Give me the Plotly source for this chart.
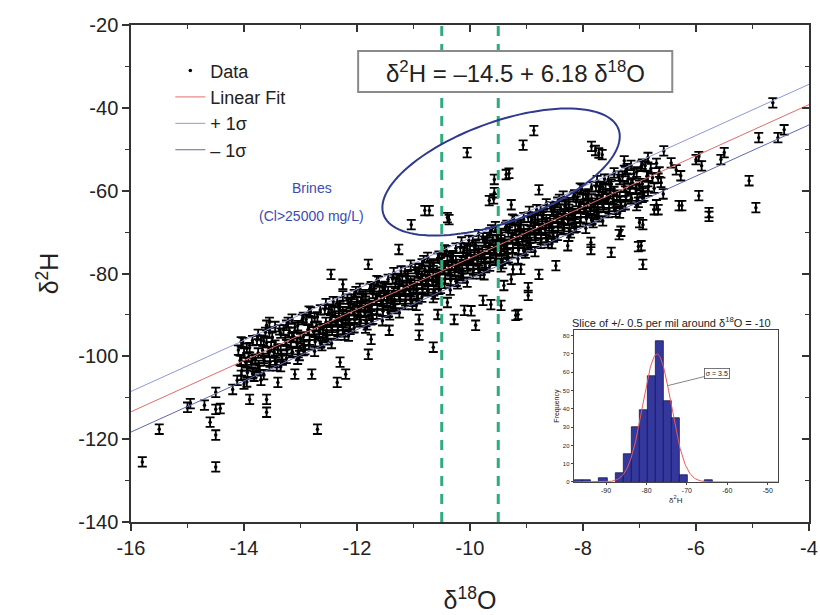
import numpy as np
import plotly.graph_objects as go

# ---------------- data ----------------
band_x = [
    -14.10, -14.07, -14.04, -14.12,
    -14.00, -13.97, -13.94, -14.02,
    -13.90, -13.87, -13.84, -13.92,
    -13.80, -13.77, -13.74, -13.82,
    -13.70, -13.67, -13.64, -13.72,
    -13.60, -13.57, -13.54, -13.62,
    -13.50, -13.47, -13.44, -13.52,
    -13.40, -13.37, -13.34, -13.42,
    -13.30, -13.27, -13.24, -13.32,
    -13.20, -13.17, -13.14, -13.22,
    -13.10, -13.07, -13.04, -13.12,
    -13.00, -12.97, -12.94, -13.02,
    -12.90, -12.87, -12.84, -12.92,
    -12.80, -12.77, -12.74, -12.82,
    -12.70, -12.67, -12.64, -12.72,
    -12.60, -12.57, -12.54, -12.62,
    -12.50, -12.47, -12.44, -12.52, -12.45, -12.54,
    -12.40, -12.37, -12.34, -12.42, -12.38, -12.32,
    -12.30, -12.27, -12.24, -12.32, -12.25, -12.34,
    -12.20, -12.17, -12.14, -12.22, -12.18, -12.12,
    -12.10, -12.07, -12.04, -12.12, -12.05, -12.14,
    -12.00, -11.97, -11.94, -12.02, -11.98, -11.92,
    -11.90, -11.87, -11.84, -11.92, -11.85, -11.94,
    -11.80, -11.77, -11.74, -11.82, -11.78, -11.72,
    -11.70, -11.67, -11.64, -11.72, -11.65, -11.74,
    -11.60, -11.57, -11.54, -11.62, -11.58, -11.52,
    -11.50, -11.47, -11.44, -11.52, -11.45, -11.54,
    -11.40, -11.37, -11.34, -11.42, -11.38, -11.32,
    -11.30, -11.27, -11.24, -11.32, -11.25, -11.34,
    -11.20, -11.17, -11.14, -11.22, -11.18, -11.12,
    -11.10, -11.07, -11.04, -11.12, -11.05, -11.14,
    -11.00, -10.97, -10.94, -11.02, -10.98, -10.92,
    -10.90, -10.87, -10.84, -10.92, -10.85, -10.94,
    -10.80, -10.77, -10.74, -10.82, -10.78, -10.72,
    -10.70, -10.67, -10.64, -10.72, -10.65, -10.74,
    -10.60, -10.57, -10.54, -10.62, -10.58, -10.52,
    -10.50, -10.47, -10.44, -10.52, -10.45, -10.54,
    -10.40, -10.37, -10.34, -10.42, -10.38, -10.32,
    -10.30, -10.27, -10.24, -10.32, -10.25, -10.34,
    -10.20, -10.17, -10.14, -10.22, -10.18, -10.12,
    -10.10, -10.07, -10.04, -10.12, -10.05, -10.14,
    -10.00, -9.97, -9.94, -10.02, -9.98, -9.92,
    -9.90, -9.87, -9.84, -9.92, -9.85, -9.94,
    -9.80, -9.77, -9.74, -9.82, -9.78, -9.72,
    -9.70, -9.67, -9.64, -9.72, -9.65, -9.74,
    -9.60, -9.57, -9.54, -9.62, -9.58, -9.52,
    -9.50, -9.47, -9.44, -9.52, -9.45, -9.54,
    -9.40, -9.37, -9.34, -9.42, -9.38, -9.32,
    -9.30, -9.27, -9.24, -9.32, -9.25, -9.34,
    -9.20, -9.17, -9.14, -9.22, -9.18, -9.12,
    -9.10, -9.07, -9.04, -9.12, -9.05, -9.14,
    -9.00, -8.97, -8.94, -9.02, -8.98, -8.92,
    -8.90, -8.87, -8.84, -8.92, -8.85, -8.94,
    -8.80, -8.77, -8.74, -8.82, -8.78, -8.72,
    -8.70, -8.67, -8.64, -8.72, -8.65, -8.74,
    -8.60, -8.57, -8.54, -8.62, -8.58, -8.52,
    -8.50, -8.47, -8.44, -8.52, -8.45, -8.54,
    -8.40, -8.37, -8.34, -8.42, -8.38, -8.32,
    -8.30, -8.27, -8.24, -8.32, -8.25, -8.34,
    -8.20, -8.17, -8.14, -8.22, -8.18, -8.12,
    -8.10, -8.07, -8.04, -8.12, -8.05, -8.14,
    -8.00, -7.97, -7.94, -8.02, -7.98, -7.92,
    -7.90, -7.87, -7.84, -7.92, -7.85, -7.94,
    -7.80, -7.77, -7.74, -7.82, -7.78, -7.72,
    -7.70, -7.67, -7.64, -7.72, -7.65, -7.74,
    -7.60, -7.57, -7.54, -7.62, -7.58, -7.52,
    -7.50, -7.47, -7.44, -7.52,
    -7.40, -7.37, -7.34, -7.42,
    -7.30, -7.27, -7.24, -7.32,
    -7.20, -7.17, -7.14, -7.22,
    -7.10, -7.07, -7.04, -7.12,
    -7.00, -6.97, -6.94, -7.02,
    -6.90, -6.87, -6.84, -6.92,
    -6.80, -6.77, -6.74,
    -6.70, -6.67, -6.62, -6.65, -6.58,
]
band_y = [
    -98.5, -101.0, -103.5, -105.8,
    -99.2, -101.4, -103.9, -96.7,
    -97.9, -101.5, -104.0, -100.2,
    -100.7, -96.1, -102.2, -104.8,
    -96.1, -98.6, -101.1, -103.4,
    -96.7, -98.9, -101.4, -94.2,
    -95.4, -99.0, -101.5, -97.7,
    -98.2, -93.6, -99.7, -102.3,
    -93.6, -96.1, -98.6, -100.9,
    -94.3, -96.5, -99.0, -91.8,
    -93.0, -96.6, -99.1, -95.3,
    -95.7, -91.1, -97.2, -99.8,
    -91.1, -93.6, -96.1, -98.4,
    -91.8, -94.0, -96.5, -89.3,
    -90.5, -94.1, -96.6, -92.8,
    -93.3, -88.7, -94.8, -97.4,
    -88.6, -91.2, -93.7, -96.0, -90.5, -93.8,
    -89.3, -91.5, -94.0, -86.8, -91.4, -88.5,
    -88.0, -91.6, -94.1, -90.3, -89.2, -92.5,
    -90.8, -86.2, -92.3, -94.9, -90.2, -87.3,
    -86.2, -88.7, -91.2, -93.5, -88.0, -91.3,
    -86.9, -89.1, -91.6, -84.4, -89.0, -86.1,
    -85.5, -89.1, -91.6, -87.8, -86.7, -90.0,
    -88.3, -83.7, -89.8, -92.4, -87.7, -84.8,
    -83.7, -86.2, -88.7, -91.0, -85.5, -88.8,
    -84.4, -86.6, -89.1, -81.9, -86.5, -83.6,
    -83.1, -86.7, -89.2, -85.4, -84.3, -87.6,
    -85.9, -81.3, -87.4, -90.0, -85.3, -82.4,
    -81.2, -83.7, -86.2, -88.5, -83.0, -86.3,
    -81.9, -84.1, -86.6, -79.4, -84.0, -81.1,
    -80.6, -84.2, -86.7, -82.9, -81.8, -85.1,
    -83.4, -78.8, -84.9, -87.5, -82.8, -79.9,
    -78.8, -81.3, -83.8, -86.1, -80.6, -83.9,
    -79.4, -81.6, -84.1, -76.9, -81.5, -78.6,
    -78.1, -81.7, -84.2, -80.4, -79.3, -82.6,
    -80.9, -76.3, -82.4, -85.0, -80.3, -77.4,
    -76.3, -78.8, -81.3, -83.6, -78.1, -81.4,
    -77.0, -79.2, -81.7, -74.5, -79.1, -76.2,
    -75.7, -79.3, -81.8, -78.0, -76.9, -80.2,
    -78.4, -73.8, -79.9, -82.5, -77.8, -74.9,
    -73.8, -76.3, -78.8, -81.1, -75.6, -78.9,
    -74.5, -76.7, -79.2, -72.0, -76.6, -73.7,
    -73.2, -76.8, -79.3, -75.5, -74.4, -77.7,
    -76.0, -71.4, -77.5, -80.1, -75.4, -72.5,
    -71.3, -73.8, -76.3, -78.6, -73.1, -76.4,
    -72.0, -74.2, -76.7, -69.5, -74.1, -71.2,
    -70.7, -74.3, -76.8, -73.0, -71.9, -75.2,
    -73.5, -68.9, -75.0, -77.6, -72.9, -70.0,
    -68.9, -71.4, -73.9, -76.2, -70.7, -74.0,
    -69.6, -71.8, -74.3, -67.1, -71.7, -68.8,
    -68.2, -71.8, -74.3, -70.5, -69.4, -72.7,
    -71.0, -66.4, -72.5, -75.1, -70.4, -67.5,
    -66.4, -68.9, -71.4, -73.7, -68.2, -71.5,
    -67.1, -69.3, -71.8, -64.6, -69.2, -66.3,
    -65.8, -69.4, -71.9, -68.1, -67.0, -70.3,
    -68.5, -63.9, -70.0, -72.6, -67.9, -65.0,
    -63.9, -66.4, -68.9, -71.2, -65.7, -69.0,
    -64.6, -66.8, -69.3, -62.1, -66.7, -63.8,
    -63.3, -66.9, -69.4, -65.6, -64.5, -67.8,
    -66.1, -61.5, -67.6, -70.2, -65.5, -62.6,
    -61.5, -64.0, -66.5, -68.8, -63.3, -66.6,
    -62.1, -64.3, -66.8, -59.6, -64.2, -61.3,
    -60.8, -64.4, -66.9, -63.1, -62.0, -65.3,
    -63.6, -59.0, -65.1, -67.7, -63.0, -60.1,
    -59.0, -61.5, -64.0, -66.3, -60.8, -64.1,
    -59.7, -61.9, -64.4, -57.2, -61.8, -58.9,
    -58.4, -62.0, -64.5, -60.7,
    -61.1, -56.5, -62.6, -65.2,
    -56.5, -59.0, -61.5, -63.8,
    -57.2, -59.4, -61.9, -54.7,
    -55.9, -59.5, -62.0, -58.2,
    -58.7, -54.1, -60.2, -62.8,
    -54.0, -56.5, -59.0, -61.3,
    -54.7, -56.9, -59.4,
    -53.4, -57.0, -58.0, -55.5, -60.8,
]

band2_x = [
    -14.05, -14.05, -14.05, -13.95, -13.95, -13.95, -13.85, -13.85, -13.85,
    -13.75, -13.75, -13.75, -13.65, -13.65, -13.65, -13.55, -13.55, -13.55,
    -13.45, -13.45, -13.45, -13.35, -13.35, -13.35, -13.25, -13.25, -13.25,
    -13.15, -13.15, -13.15, -13.05, -13.05, -13.05, -12.95, -12.95, -12.95,
    -12.85, -12.85, -12.85, -12.75, -12.75, -12.75, -12.65, -12.65, -12.65,
    -12.55, -12.55, -12.55, -12.45, -12.45, -12.45, -12.35, -12.35, -12.35,
    -12.25, -12.25, -12.25, -12.15, -12.15, -12.15, -12.05, -12.05, -12.05,
    -11.95, -11.95, -11.95, -11.85, -11.85, -11.85, -11.75, -11.75, -11.75,
    -11.65, -11.65, -11.65, -11.55, -11.55, -11.55, -11.45, -11.45, -11.45,
    -11.35, -11.35, -11.35, -11.25, -11.25, -11.25, -11.15, -11.15, -11.15,
    -11.05, -11.05, -11.05, -10.95, -10.95, -10.95, -10.85, -10.85, -10.85,
    -10.75, -10.75, -10.75, -10.65, -10.65, -10.65, -10.55, -10.55, -10.55,
    -10.45, -10.45, -10.45, -10.35, -10.35, -10.35, -10.25, -10.25, -10.25,
    -10.15, -10.15, -10.15, -10.05, -10.05, -10.05, -9.95, -9.95, -9.95,
    -9.85, -9.85, -9.85, -9.75, -9.75, -9.75, -9.65, -9.65, -9.65,
    -9.55, -9.55, -9.55, -9.45, -9.45, -9.45, -9.35, -9.35, -9.35,
    -9.25, -9.25, -9.25, -9.15, -9.15, -9.15, -9.05, -9.05, -9.05,
    -8.95, -8.95, -8.95, -8.85, -8.85, -8.85, -8.75, -8.75, -8.75,
    -8.65, -8.65, -8.65, -8.55, -8.55, -8.55, -8.45, -8.45, -8.45,
    -8.35, -8.35, -8.35, -8.25, -8.25, -8.25, -8.15, -8.15, -8.15,
    -8.05, -8.05, -8.05, -7.95, -7.95, -7.95, -7.85, -7.85, -7.85,
    -7.75, -7.75, -7.75, -7.65, -7.65, -7.65, -7.55, -7.55, -7.55,
    -7.45, -7.45, -7.45, -7.35, -7.35, -7.35, -7.25, -7.25, -7.25,
    -7.15, -7.15, -7.15, -7.05, -7.05, -7.05, -6.95, -6.95, -6.95,
    -6.85, -6.85, -6.85,
]
band2_y = [
    -96.5, -101.0, -104.6, -98.1, -102.3, -106.2, -96.2, -100.9, -104.2,
    -94.7, -99.2, -102.8, -96.3, -100.5, -104.4, -94.3, -99.0, -102.3,
    -92.8, -97.3, -100.9, -94.4, -98.6, -102.5, -92.5, -97.2, -100.5,
    -91.0, -95.5, -99.1, -92.6, -96.8, -100.7, -90.6, -95.3, -98.6,
    -89.1, -93.6, -97.2, -90.7, -94.9, -98.8, -88.8, -93.5, -96.8,
    -87.3, -91.8, -95.4, -88.8, -93.0, -96.9, -86.9, -91.6, -94.9,
    -85.4, -89.9, -93.5, -87.0, -91.2, -95.1, -85.1, -89.8, -93.1,
    -83.6, -88.1, -91.7, -85.1, -89.3, -93.2, -83.2, -87.9, -91.2,
    -81.7, -86.2, -89.8, -83.3, -87.5, -91.4, -81.4, -86.1, -89.4,
    -79.8, -84.3, -87.9, -81.4, -85.6, -89.5, -79.5, -84.2, -87.5,
    -78.0, -82.5, -86.1, -79.6, -83.8, -87.7, -77.7, -82.4, -85.7,
    -76.1, -80.6, -84.2, -77.7, -81.9, -85.8, -75.8, -80.5, -83.8,
    -74.3, -78.8, -82.4, -75.9, -80.1, -84.0, -73.9, -78.6, -81.9,
    -72.4, -76.9, -80.5, -74.0, -78.2, -82.1, -72.1, -76.8, -80.1,
    -70.6, -75.1, -78.7, -72.2, -76.4, -80.3, -70.2, -74.9, -78.2,
    -68.7, -73.2, -76.8, -70.3, -74.5, -78.4, -68.4, -73.1, -76.4,
    -66.9, -71.4, -75.0, -68.4, -72.6, -76.5, -66.5, -71.2, -74.5,
    -65.0, -69.5, -73.1, -66.6, -70.8, -74.7, -64.7, -69.4, -72.7,
    -63.2, -67.7, -71.3, -64.7, -68.9, -72.8, -62.8, -67.5, -70.8,
    -61.3, -65.8, -69.4, -62.9, -67.1, -71.0, -61.0, -65.7, -69.0,
    -59.4, -63.9, -67.5, -61.0, -65.2, -69.1, -59.1, -63.8, -67.1,
    -57.6, -62.1, -65.7, -59.2, -63.4, -67.3, -57.3, -62.0, -65.3,
    -55.7, -60.2, -63.8, -57.3, -61.5, -65.4, -55.4, -60.1, -63.4,
    -53.9, -58.4, -62.0, -55.5, -59.7, -63.6, -53.6, -58.3, -61.6,
    -52.0, -56.5, -60.1,
]

outlier_x = [
    -15.80, -15.50, -15.00, -14.95, -14.70, -14.50, -14.50, -14.42, -14.60, -14.50,
    -14.50, -14.20, -14.00, -13.90, -13.70, -13.60, -13.60, -13.60, -13.55, -13.40,
    -13.10, -12.80, -12.70, -12.35, -12.20, -12.30, -12.46, -12.25, -11.80, -11.26,
    -11.80, -11.75, -11.43, -10.90, -10.65, -10.90, -10.57, -10.28, -9.90, -10.40,
    -10.10, -9.77, -9.63, -9.15, -9.45, -9.40, -9.27, -9.10, -9.98, -8.97,
    -8.97, -9.19, -9.24, -8.48, -8.78, -8.27, -7.86, -7.86, -7.50, -7.36,
    -7.33, -7.00, -6.97, -7.02, -6.94, -6.94, -6.70, -6.74, -6.67, -6.30,
    -6.25, -5.95, -5.77, -5.77, -4.94, -5.06, -6.57, -6.44, -6.27, -6.35,
    -6.00, -5.90, -5.95, -5.56, -5.50, -4.89, -4.55, -4.44, -4.64, -7.27,
]
outlier_y = [
    -125.5, -117.6, -112.3, -111.4, -111.8, -108.7, -112.8, -112.6, -115.9, -119.0,
    -126.7, -108.0, -106.7, -110.4, -105.8, -110.4, -113.5, -92.5, -91.8, -106.3,
    -104.3, -104.3, -117.6, -106.3, -104.3, -101.4, -80.2, -82.6, -77.8, -74.2,
    -99.5, -95.9, -93.7, -94.9, -97.8, -91.1, -89.9, -91.1, -92.5, -87.0,
    -88.9, -86.5, -87.5, -89.9, -87.7, -82.9, -81.4, -79.0, -89.0, -83.4,
    -85.3, -90.1, -79.0, -78.1, -80.2, -73.3, -74.2, -72.5, -74.9, -70.6,
    -69.8, -67.7, -73.3, -73.5, -77.8, -68.2, -63.4, -64.6, -64.6, -63.6,
    -63.6, -61.2, -65.3, -66.2, -64.1, -57.6, -50.4, -53.3, -56.4, -55.0,
    -52.5, -54.0, -51.8, -52.5, -50.8, -47.2, -47.2, -45.3, -38.8, -52.8,
]

brine_x = [-8.87, -9.06, -10.05, -9.57, -9.36, -9.31, -9.57, -9.66, -9.58, -9.27,
           -8.78, -10.80, -10.72, -11.04, -10.37, -7.85, -7.72, -7.66, -7.78, -10.40]
brine_y = [-45.5, -49.0, -50.8, -57.3, -56.1, -55.8, -60.5, -62.4, -62.0, -63.4,
           -59.8, -64.8, -64.8, -68.2, -67.0, -49.3, -50.9, -51.3, -50.3, -66.5]

fit_intercept = -14.5
fit_slope = 6.18
fit_sigma = 4.9
slice_lines = [-10.5, -9.5]

x_ticks = [-16, -14, -12, -10, -8, -6, -4]
x_labels = ["-16", "-14", "-12", "-10", "-8", "-6", "-4"]
y_ticks = [-140, -120, -100, -80, -60, -40, -20]
y_labels = ["-140", "-120", "-100", "-80", "-60", "-40", "-20"]

# inset histogram
hist_centers = [-96.7, -94.7, -90.7, -86.7, -84.7, -82.7, -80.7, -78.7, -76.7, -74.7, -72.7, -70.7, -64.7]
hist_counts = [1, 1, 2, 5, 15, 30, 39, 58, 77, 44, 35, 4, 1]
gauss_amp = 70
gauss_mean = -77.4
gauss_sigma = 3.5
inset_x_ticks = [-90, -80, -70, -60, -50]
inset_x_labels = ["-90", "-80", "-70", "-60", "-50"]
inset_y_ticks = [0, 10, 20, 30, 40, 50, 60, 70, 80]

# ---------------- styling ----------------
FONT = "Liberation Sans, Arial, sans-serif"
X_RANGE = [-16, -4]
Y_RANGE = [-140, -20]
PX_PER_X = 56.5
PX_PER_Y = 4.14

fig = go.Figure()

data_x = band_x + band2_x + outlier_x + brine_x
data_y = band_y + band2_y + outlier_y + brine_y
fig.add_trace(go.Scatter(
    x=data_x, y=data_y, mode="markers", name="Data",
    marker=dict(color="black", size=3.5),
    error_y=dict(type="constant", value=1.15, color="black", thickness=1.8, width=4.5),
))

line_x = np.array(X_RANGE, dtype=float)
fit_y = fit_intercept + fit_slope * line_x
fig.add_trace(go.Scatter(x=line_x, y=fit_y, mode="lines", name="Linear Fit",
                         line=dict(color="#e46b6b", width=1)))
fig.add_trace(go.Scatter(x=line_x, y=fit_y + fit_sigma, mode="lines", name="+ 1σ",
                         line=dict(color="#8f98dc", width=1)))
fig.add_trace(go.Scatter(x=line_x, y=fit_y - fit_sigma, mode="lines", name="– 1σ",
                         line=dict(color="#5e68b4", width=1)))

# mirror axes (top / right) with inside ticks
fig.add_trace(go.Scatter(x=[], y=[], xaxis="x2", yaxis="y2", showlegend=False, hoverinfo="skip"))

# inset histogram
fig.add_trace(go.Bar(x=hist_centers, y=hist_counts, width=2.0, xaxis="x3", yaxis="y3",
                     marker=dict(color="#34389c", line=dict(color="#161650", width=0.8)),
                     showlegend=False))
gx = np.linspace(-98, -47.5, 300)
gy = gauss_amp * np.exp(-0.5 * ((gx - gauss_mean) / gauss_sigma) ** 2)
fig.add_trace(go.Scatter(x=gx, y=gy, mode="lines", xaxis="x3", yaxis="y3",
                         line=dict(color="#e85a5a", width=1), showlegend=False))

# green dashed slice lines
for xv in slice_lines:
    fig.add_shape(type="line", x0=xv, x1=xv, y0=Y_RANGE[0], y1=Y_RANGE[1], xref="x", yref="y",
                  line=dict(color="#2fab7c", width=3, dash="10px,8px"), layer="above")

# brine ellipse
cx, cy = -9.45, -55.5
a_px, b_px, th = 125.0, 50.0, np.deg2rad(20)
t = np.linspace(0, 2 * np.pi, 120)
ex = cx + (a_px * np.cos(t) * np.cos(th) - b_px * np.sin(t) * np.sin(th)) / PX_PER_X
ey = cy + (a_px * np.cos(t) * np.sin(th) + b_px * np.sin(t) * np.cos(th)) / PX_PER_Y
path = "M " + " L ".join(f"{u:.4f},{v:.4f}" for u, v in zip(ex, ey)) + " Z"
fig.add_shape(type="path", path=path, xref="x", yref="y",
              line=dict(color="#2e3a8e", width=2))

# equation box
fig.add_shape(type="rect", x0=-11.98, x1=-6.42, y0=-36.2, y1=-26.3, xref="x", yref="y",
              line=dict(color="#8a8a8a", width=2), fillcolor="white", layer="above")
fig.add_annotation(x=-9.2, y=-31.25, xref="x", yref="y", showarrow=False,
                   text="δ<sup>2</sup>H = –14.5 + 6.18 δ<sup>18</sup>O",
                   font=dict(family=FONT, size=24, color="#222"))

# brines label
fig.add_annotation(x=-12.8, y=-59.3, xref="x", yref="y", showarrow=False, text="Brines",
                   font=dict(family=FONT, size=14, color="#3c4bb0"))
fig.add_annotation(x=-12.8, y=-66.1, xref="x", yref="y", showarrow=False, text="(Cl>25000 mg/L)",
                   font=dict(family=FONT, size=14, color="#3c4bb0"))

# inset annotations
fig.add_annotation(x=0.6475, y=0.402, xref="paper", yref="paper", xanchor="left", yanchor="middle",
                   showarrow=False, text="Slice of +/- 0.5 per mil around δ<sup>18</sup>O = -10",
                   font=dict(family=FONT, size=11, color="#222"))
fig.add_annotation(x=-74.7, y=52.7, xref="x3", yref="y3", ax=-62.6, ay=59.3, axref="x3", ayref="y3",
                   showarrow=True, arrowhead=0, arrowwidth=0.8, arrowcolor="#666",
                   text="σ = 3.5", font=dict(family=FONT, size=7, color="#222"),
                   bordercolor="#555", borderwidth=0.8, borderpad=1, bgcolor="white")

axis_common = dict(showgrid=False, zeroline=False, showline=True, linecolor="#333", linewidth=1.5,
                   tickcolor="#333", tickwidth=1.5, automargin=False)

fig.update_layout(
    width=820, height=615,
    margin=dict(l=131, r=11, t=25, b=93),
    paper_bgcolor="white", plot_bgcolor="white",
    font=dict(family=FONT, color="#222"),
    showlegend=True,
    legend=dict(x=0.058, y=0.945, xanchor="left", yanchor="top", bgcolor="rgba(0,0,0,0)",
                font=dict(family=FONT, size=18, color="#222"), itemsizing="trace",
                tracegroupgap=0),
    xaxis=dict(range=X_RANGE, tickmode="array", tickvals=x_ticks, ticktext=x_labels,
               ticks="outside", ticklen=7,
               minor=dict(tickmode="linear", tick0=-16, dtick=1, ticks="outside", ticklen=4,
                          tickcolor="#333", tickwidth=1.2),
               tickfont=dict(size=20, family=FONT, color="#222"),
               title=dict(text="δ<sup>18</sup>O", font=dict(size=25, family=FONT, color="#222"), standoff=34),
               **axis_common),
    yaxis=dict(range=Y_RANGE, tickmode="array", tickvals=y_ticks, ticktext=y_labels,
               ticks="outside", ticklen=7,
               minor=dict(tickmode="linear", tick0=-140, dtick=10, ticks="outside", ticklen=4,
                          tickcolor="#333", tickwidth=1.2),
               tickfont=dict(size=20, family=FONT, color="#222"),
               title=dict(text="δ<sup>2</sup>H", font=dict(size=25, family=FONT, color="#222"), standoff=12),
               **axis_common),
    xaxis2=dict(range=X_RANGE, overlaying="x", side="top", anchor="y2", tickmode="linear", tick0=-16,
                dtick=2, ticks="inside", ticklen=7, showticklabels=False,
                minor=dict(tickmode="linear", tick0=-16, dtick=1, ticks="inside", ticklen=4,
                           tickcolor="#333", tickwidth=1.2),
                **axis_common),
    yaxis2=dict(range=Y_RANGE, overlaying="y", side="right", anchor="x2", tickmode="linear", tick0=-140,
                dtick=20, ticks="inside", ticklen=7, showticklabels=False,
                minor=dict(tickmode="linear", tick0=-140, dtick=10, ticks="inside", ticklen=4,
                           tickcolor="#333", tickwidth=1.2),
                **axis_common),
    xaxis3=dict(domain=[0.653, 0.954], anchor="y3", range=[-98, -47.5], tickmode="array",
                tickvals=inset_x_ticks, ticktext=inset_x_labels, ticks="outside", ticklen=2,
                tickfont=dict(size=7, family=FONT), mirror=True, showgrid=False, zeroline=False,
                showline=True, linecolor="#444", linewidth=1,
                title=dict(text="δ<sup>2</sup>H", font=dict(size=8, family=FONT), standoff=2)),
    yaxis3=dict(domain=[0.0805, 0.386], anchor="x3", range=[0, 83], tickmode="array",
                tickvals=inset_y_ticks, ticks="outside", ticklen=2,
                tickfont=dict(size=6, family=FONT), mirror=True, showgrid=False, zeroline=False,
                showline=True, linecolor="#444", linewidth=1,
                title=dict(text="Frequency", font=dict(size=7, family=FONT), standoff=2)),
    bargap=0,
)

fig.write_html("out.html")
